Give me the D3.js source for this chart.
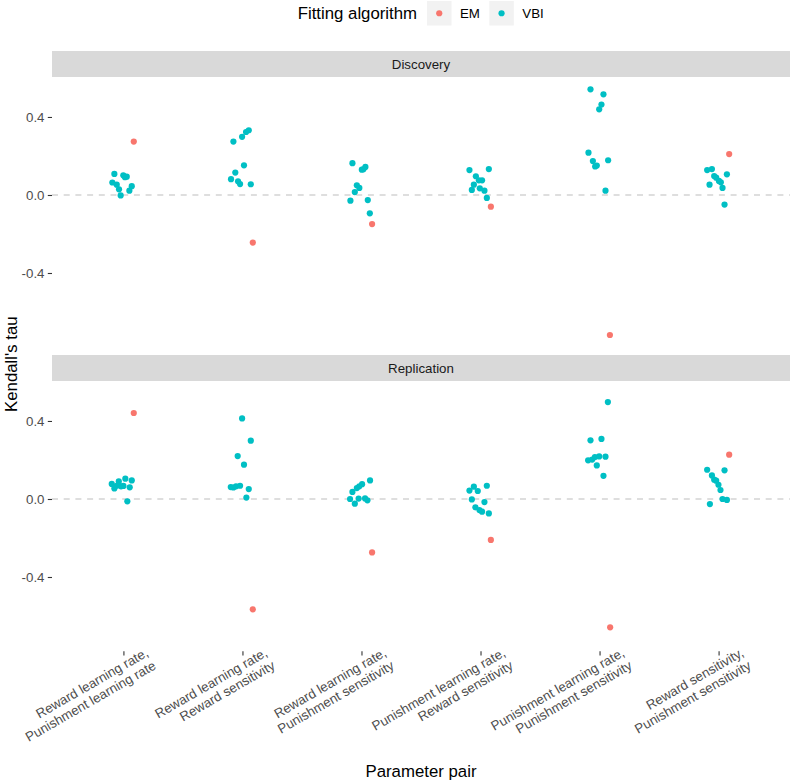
<!DOCTYPE html>
<html>
<head>
<meta charset="utf-8">
<script src="https://cdn.jsdelivr.net/npm/d3@7"></script>
<style>
  html, body { margin: 0; padding: 0; background: #fff; }
  svg { display: block; font-family: "Liberation Sans", Arial, sans-serif; }
</style>
</head>
<body>
<svg id="chart" width="791" height="783"></svg>
<script>
// ---- Data ----
const pairs = [
  ["Reward learning rate,", "Punishment learning rate"],
  ["Reward learning rate,", "Reward sensitivity"],
  ["Reward learning rate,", "Punishment sensitivity"],
  ["Punishment learning rate,", "Reward sensitivity"],
  ["Punishment learning rate,", "Punishment sensitivity"],
  ["Reward sensitivity,", "Punishment sensitivity"]
];
const panels = ["Discovery", "Replication"];
const algorithms = ["EM", "VBI"];
const yTicks = [-0.4, 0.0, 0.4];

// [jitter (in category units), Kendall's tau]
const discoveryVBI = [
  [[-0.076,0.108],[-0.001,0.101],[0.028,0.094],[0.013,0.091],[-0.093,0.064],[-0.056,0.053],[-0.037,0.029],[-0.023,-0.002],[0.050,0.022],[0.070,0.045]],
  [[-0.076,0.274],[-0.003,0.298],[0.030,0.323],[0.053,0.332],[0.013,0.152],[-0.060,0.115],[-0.096,0.081],[-0.037,0.070],[-0.020,0.056],[0.070,0.055]],
  [[-0.076,0.163],[0.003,0.130],[0.033,0.144],[0.016,0.132],[-0.039,0.050],[-0.018,0.036],[-0.056,0.015],[-0.093,-0.029],[0.053,-0.026],[0.070,-0.094]],
  [[-0.093,0.128],[0.070,0.133],[-0.039,0.096],[-0.014,0.075],[0.013,0.075],[-0.056,0.053],[-0.073,0.026],[-0.006,0.034],[0.033,0.022],[0.053,-0.015]],
  [[-0.076,0.542],[0.033,0.516],[0.016,0.464],[-0.003,0.439],[-0.093,0.217],[-0.056,0.174],[0.072,0.178],[-0.037,0.146],[-0.023,0.151],[0.050,0.022]],
  [[-0.096,0.128],[-0.056,0.133],[0.070,0.106],[-0.037,0.097],[-0.020,0.089],[0.003,0.072],[0.019,0.065],[-0.076,0.053],[0.033,0.036],[0.050,-0.049]]
];
const discoveryEM = [[0.087,0.274],[0.087,-0.244],[0.089,-0.149],[0.087,-0.060],[0.087,-0.718],[0.089,0.210]];

const replicationVBI = [
  [[-0.098,0.077],[-0.076,0.054],[-0.039,0.090],[-0.020,0.065],[0.000,0.067],[0.016,0.104],[0.053,0.060],[0.070,0.095],[0.033,-0.012],[-0.056,0.068]],
  [[-0.003,0.413],[0.070,0.299],[-0.040,0.220],[0.013,0.176],[-0.098,0.061],[-0.076,0.059],[-0.054,0.065],[-0.020,0.068],[0.053,0.051],[0.033,0.007]],
  [[-0.076,0.036],[-0.039,0.056],[-0.018,0.065],[0.005,0.076],[0.072,0.095],[-0.096,0.000],[-0.056,-0.024],[-0.024,0.002],[0.030,0.003],[0.050,-0.007]],
  [[-0.093,0.043],[-0.056,0.063],[-0.023,0.041],[0.053,0.068],[-0.073,-0.002],[0.033,-0.016],[-0.043,-0.043],[-0.009,-0.057],[0.013,-0.065],[0.070,-0.074]],
  [[0.070,0.497],[-0.076,0.301],[0.016,0.308],[-0.096,0.198],[-0.062,0.202],[-0.039,0.215],[-0.003,0.218],[0.050,0.217],[-0.023,0.172],[0.033,0.119]],
  [[-0.096,0.150],[0.050,0.147],[-0.056,0.121],[-0.037,0.099],[-0.020,0.094],[-0.001,0.073],[0.016,0.046],[0.033,0.000],[0.070,-0.005],[-0.073,-0.026]]
];
const replicationEM = [[0.087,0.441],[0.087,-0.566],[0.089,-0.274],[0.087,-0.210],[0.089,-0.658],[0.089,0.227]];

// ---- Build tidy rows ----
function rows(panel, algo, byPair) {
  const out = [];
  byPair.forEach((arr, i) => {
    const list = Array.isArray(arr[0]) ? arr : [arr];
    list.forEach(([j, v]) => out.push({panel, algo, pair: i, jitter: j, tau: v}));
  });
  return out;
}
const data = [
  ...rows("Discovery", "EM", discoveryEM),
  ...rows("Discovery", "VBI", discoveryVBI),
  ...rows("Replication", "EM", replicationEM),
  ...rows("Replication", "VBI", replicationVBI)
];

// ---- Layout ----
const svg = d3.select("#chart");
const left = 52, right = 790;
const stripH = 26;
const panelTops = [77, 381];
const panelH = 270.3;
const ptR = 3.1;
const color = d3.scaleOrdinal().domain(algorithms).range(["#F8766D", "#00BFC4"]);

const x = d3.scalePoint().domain(d3.range(pairs.length)).range([left, right]).padding(0.6);
const ext = d3.extent(data, d => d.tau);
const pad = (ext[1] - ext[0]) * 0.05;
const yDomain = [ext[0] - pad, ext[1] + pad];

panels.forEach((p, pi) => {
  const top = panelTops[pi];
  const y = d3.scaleLinear().domain(yDomain).range([top + panelH, top]);
  const g = svg.append("g");

  // strip
  g.append("rect").attr("x", left).attr("y", top - stripH).attr("width", right - left)
    .attr("height", stripH).attr("fill", "#D9D9D9");
  g.append("text").attr("x", (left + right) / 2).attr("y", top - stripH / 2 + 4.6)
    .attr("text-anchor", "middle").attr("font-size", 13.3).attr("fill", "#1A1A1A").text(p);

  // zero line
  g.append("line").attr("x1", left).attr("x2", right).attr("y1", y(0)).attr("y2", y(0))
    .attr("stroke", "#BEBEBE").attr("stroke-width", 1.1).attr("stroke-dasharray", "6,5.7");

  // y axis
  const yAxis = d3.axisLeft(y).tickValues(yTicks).tickFormat(d3.format(".1f")).tickSize(4.2).tickPadding(3.3);
  const ya = g.append("g").attr("transform", `translate(${left},0)`).call(yAxis);
  ya.select(".domain").remove();
  ya.selectAll(".tick line").attr("stroke", "#333333").attr("stroke-width", 1.1);
  ya.selectAll(".tick text").attr("fill", "#4D4D4D").attr("font-size", 13.3)
    .attr("font-family", "Liberation Sans, Arial, sans-serif")
    .text(d => d3.format(".1f")(d).replace("\u2212", "-"));

  // points
  g.selectAll("circle.pt").data(data.filter(d => d.panel === p)).join("circle")
    .attr("class", "pt")
    .attr("cx", d => x(d.pair) + d.jitter * x.step())
    .attr("cy", d => y(d.tau))
    .attr("r", ptR)
    .attr("fill", d => color(d.algo));

  // x axis on bottom panel
  if (pi === panels.length - 1) {
    const bottom = top + panelH;
    const xa = g.append("g").attr("transform", `translate(0,${bottom})`)
      .call(d3.axisBottom(x).tickSize(4.2).tickFormat(""));
    xa.select(".domain").remove();
    xa.selectAll(".tick line").attr("stroke", "#333333").attr("stroke-width", 1.1);
    pairs.forEach((lines, i) => {
      const t = g.append("text")
        .attr("transform", `translate(${x(i) + 26},${bottom + 4}) rotate(-30)`)
        .attr("text-anchor", "end").attr("font-size", 13.3).attr("fill", "#4D4D4D");
      lines.forEach((ln, k) => {
        t.append("tspan").attr("x", 0).attr("dy", k === 0 ? 0 : "1.12em").text(ln);
      });
    });
  }
});

// axis titles
svg.append("text").attr("x", (left + right) / 2).attr("y", 777)
  .attr("text-anchor", "middle").attr("font-size", 16.8).attr("fill", "#000").text("Parameter pair");
svg.append("text").attr("transform", `translate(17,${(panelTops[0] + panelTops[1] + panelH) / 2}) rotate(-90)`)
  .attr("text-anchor", "middle").attr("font-size", 16.8).attr("fill", "#000").text("Kendall's tau");

// legend
const lg = svg.append("g");
lg.append("text").attr("x", 297.7).attr("y", 19.3).attr("font-size", 16.8).attr("fill", "#000").text("Fitting algorithm");
const keyX = [427, 489.3];
algorithms.forEach((a, i) => {
  lg.append("rect").attr("x", keyX[i]).attr("y", 1).attr("width", 24.5).attr("height", 24.5).attr("fill", "#F2F2F2");
  lg.append("circle").attr("cx", keyX[i] + 12.25).attr("cy", 13.25).attr("r", ptR).attr("fill", color(a));
  lg.append("text").attr("x", keyX[i] + 33).attr("y", 18).attr("font-size", 13.3).attr("fill", "#000").text(a);
});
</script>
</body>
</html>
